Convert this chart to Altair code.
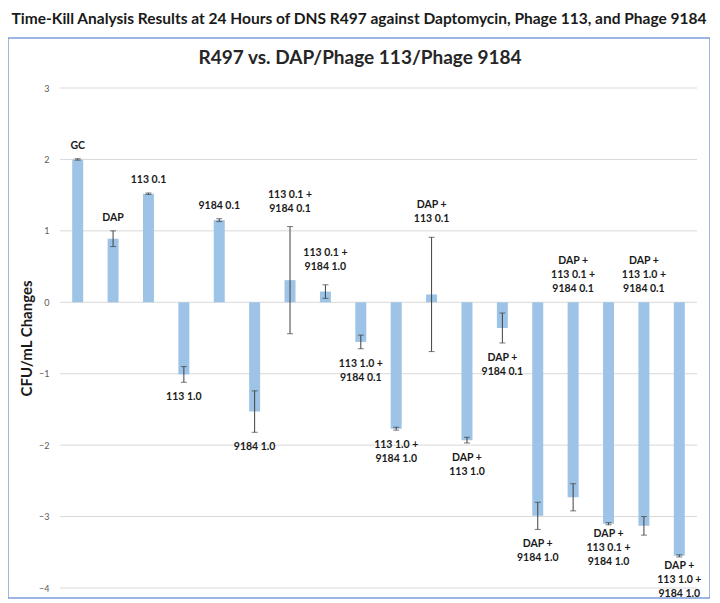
import altair as alt
import pandas as pd

outer_title = "Time-Kill Analysis Results at 24 Hours of DNS R497 against Daptomycin, Phage 113, and Phage 9184"
inner_title = "R497 vs. DAP/Phage 113/Phage 9184"
y_title = "CFU/mL Changes"

categories = [
    "GC", "DAP", "113 0.1", "113 1.0", "9184 0.1", "9184 1.0",
    "113 0.1 + 9184 0.1", "113 0.1 + 9184 1.0",
    "113 1.0 + 9184 0.1", "113 1.0 + 9184 1.0",
    "DAP + 113 0.1", "DAP + 113 1.0", "DAP + 9184 0.1", "DAP + 9184 1.0",
    "DAP + 113 0.1 + 9184 0.1", "DAP + 113 0.1 + 9184 1.0",
    "DAP + 113 1.0 + 9184 0.1", "DAP + 113 1.0 + 9184 1.0",
]
labels = [
    "GC", "DAP", "113 0.1", "113 1.0", "9184 0.1", "9184 1.0",
    "113 0.1 +\n9184 0.1", "113 0.1 +\n9184 1.0",
    "113 1.0 +\n9184 0.1", "113 1.0 +\n9184 1.0",
    "DAP +\n113 0.1", "DAP +\n113 1.0", "DAP +\n9184 0.1", "DAP +\n9184 1.0",
    "DAP +\n113 0.1 +\n9184 0.1", "DAP +\n113 0.1 +\n9184 1.0",
    "DAP +\n113 1.0 +\n9184 0.1", "DAP +\n113 1.0 +\n9184 1.0",
]
values = [2.00, 0.89, 1.52, -1.01, 1.15, -1.53, 0.31, 0.15, -0.555, -1.77,
          0.11, -1.93, -0.36, -2.99, -2.73, -3.10, -3.13, -3.55]
errors = [0.01, 0.11, 0.01, 0.11, 0.02, 0.29, 0.75, 0.095, 0.095, 0.02,
          0.80, 0.04, 0.21, 0.19, 0.19, 0.015, 0.13, 0.015]
# label drawn above the zero line instead of at the bar end
label_at_base = [False] * 14 + [True, False, True, False]
y_ticks = [-4, -3, -2, -1, 0, 1, 2, 3]

df = pd.DataFrame({"cat": categories, "label": labels, "value": values,
                   "err": errors, "base": label_at_base})
df["lo"] = df["value"] - df["err"]
df["hi"] = df["value"] + df["err"]
df["anchor"] = [0.0 if b else (h if v >= 0 else l)
                for v, h, l, b in zip(df["value"], df["hi"], df["lo"], df["base"])]
df["up"] = (df["value"] >= 0) | df["base"]
df["n"] = [s.count("\n") + 1 for s in labels]

grid_df = pd.DataFrame({"g": y_ticks})
title_df = pd.DataFrame({"t": [inner_title]})

W, H = 702, 560
FONT = "Lato"
y_scale = alt.Scale(domain=[-4.14, 3.70], nice=False, zero=False)
x_scale = alt.Scale(domain=categories, range=[52, 689], paddingInner=0.69, paddingOuter=0.345)
y_axis = alt.Axis(values=y_ticks, grid=False, domain=False, ticks=False,
                  offset=-43, labelPadding=2, labelFontSize=9, labelFont=FONT,
                  labelColor="#595959", title=y_title, titleFont=FONT,
                  titleFontSize=15, titleFontWeight="bold", titleColor="#1a1a1a",
                  titlePadding=4, titleY=300)
X = alt.X("cat:N", sort=categories, scale=x_scale, axis=None)

grid = alt.Chart(grid_df).mark_rule(color="#d9d9d9", strokeWidth=1).encode(
    y=alt.Y("g:Q", scale=y_scale, axis=y_axis),
    x=alt.value(52), x2=alt.value(689),
)

bars = alt.Chart(df).mark_bar(color="#9dc3e6").encode(
    x=X, y=alt.Y("value:Q", scale=y_scale, axis=y_axis),
)

err_rule = alt.Chart(df).mark_rule(color="#404040", strokeWidth=1).encode(
    x=X, y=alt.Y("lo:Q", scale=y_scale, axis=y_axis), y2="hi:Q",
)
cap_lo = alt.Chart(df).mark_tick(color="#404040", thickness=1, size=6).encode(
    x=X, y=alt.Y("lo:Q", scale=y_scale, axis=y_axis),
)
cap_hi = alt.Chart(df).mark_tick(color="#404040", thickness=1, size=6).encode(
    x=X, y=alt.Y("hi:Q", scale=y_scale, axis=y_axis),
)


def label_layer(filt, baseline, dy):
    return alt.Chart(df).transform_filter(filt).mark_text(
        font=FONT, fontSize=10.5, fontWeight="bold", color="#1a1a1a", baseline=baseline,
        lineBreak="\n", lineHeight=14, dy=dy, align="center"
    ).encode(
        x=X, y=alt.Y("anchor:Q", scale=y_scale, axis=y_axis), text="label:N",
    )


labels_layers = [
    label_layer("datum.up && !datum.base && datum.n == 1", "bottom", -8),
    label_layer("datum.up && !datum.base && datum.n == 2", "bottom", -27),
    label_layer("datum.base", "bottom", -36),
    label_layer("!datum.up && datum.n < 3", "top", 10),
    label_layer("!datum.up && datum.n == 3", "top", 4),
]

inner = alt.Chart(title_df).mark_text(
    font=FONT, fontSize=19, fontWeight="bold", color="#262626", baseline="middle", align="center"
).encode(text="t:N", x=alt.value(352), y=alt.value(20))

chart = alt.layer(grid, bars, err_rule, cap_lo, cap_hi, *labels_layers, inner).properties(
    width=W, height=H, padding={"top": 3, "left": 0, "right": 0, "bottom": 0},
    title=alt.TitleParams(text=outer_title, anchor="middle", font=FONT, fontSize=15.5,
                          fontWeight="bold", color="#1a1a1a", offset=11),
).configure_view(stroke="#7f9fdb", strokeWidth=1.5)

chart.save("out.html", embed_options={"renderer": "svg", "actions": False})
